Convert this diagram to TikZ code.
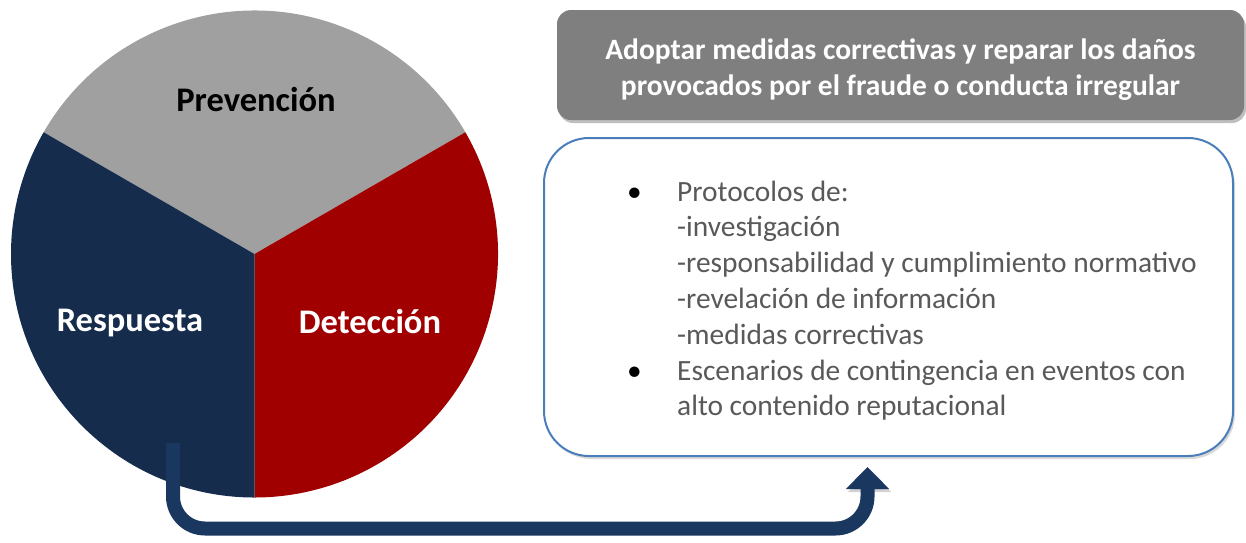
\documentclass[tikz,border=0pt]{standalone}
\usepackage{fontspec}
\setmainfont{Carlito}
\usetikzlibrary{shadows,arrows.meta}
\definecolor{pieGray}{RGB}{160,160,160}
\definecolor{pieNavy}{RGB}{21,44,77}
\definecolor{pieRed}{RGB}{160,0,0}
\definecolor{titleGray}{RGB}{127,127,127}
\definecolor{boxBlue}{RGB}{74,126,187}
\definecolor{txtGray}{RGB}{89,89,89}
\definecolor{arrowNavy}{RGB}{25,55,95}
\begin{document}
\begin{tikzpicture}[x=1pt,y=-1pt,
  pielabel/.style={font=\fontsize{34.5}{40}\selectfont\bfseries, inner sep=0pt, anchor=base},
  titlebox/.style={fill=titleGray, rounded corners=14pt, minimum width=687pt, minimum height=110pt,
     drop shadow={shadow xshift=2pt, shadow yshift=-3pt, opacity=0.25, fill=black}},
  titletext/.style={inner sep=0pt, text=white, align=center, font=\fontsize{29.5}{36}\selectfont\bfseries},
  listbox/.style={draw=boxBlue, line width=2pt, fill=white, rounded corners=45pt,
     minimum width=689pt, minimum height=318pt,
     drop shadow={shadow xshift=2pt, shadow yshift=-3pt, opacity=0.15, fill=black}},
  listtext/.style={inner sep=0pt, anchor=base west, text=txtGray, font=\fontsize{29.4}{35.8}\selectfont},
  bigarrow/.style={draw=arrowNavy, line width=14pt, rounded corners=32pt,
     -{Triangle[width=42pt,length=22pt]},
     preaction={draw=black, opacity=0.18, transform canvas={shift={(2pt,-3pt)}}}}
]
\useasboundingbox (0,0) rectangle (1246,542);
\coordinate (C) at (254.5,254);
\def\R{243.5}
\fill[pieGray] (C) -- ++(210:\R) arc[start angle=210,end angle=330,radius=\R] -- cycle;
\fill[pieRed]  (C) -- ++(330:\R) arc[start angle=330,end angle=450,radius=\R] -- cycle;
\fill[pieNavy] (C) -- ++(90:\R)  arc[start angle=90,end angle=210,radius=\R] -- cycle;
\node[pielabel, text=black] (prev) at (256,111) {Prevención};
\node[pielabel, text=white] (resp) at (130,331) {Respuesta};
\node[pielabel, text=white] (det)  at (370,333) {Detección};

\node[titlebox] (title) at (900.5,65) {};
\node[titletext] (titletxt) at (900.5,69.5) {Adoptar medidas correctivas y reparar los daños\\provocados por el fraude o conducta irregular};
\node[listbox] (box) at (888.5,297) {};
\node[listtext] (list) at (627,201) {\begin{tabular}[t]{@{}p{50pt}@{}l@{}}
\textcolor{black}{•} & Protocolos de:\\
 & -investigación\\
 & -responsabilidad y cumplimiento normativo\\
 & -revelación de información\\
 & -medidas correctivas\\
\textcolor{black}{•} & Escenarios de contingencia en eventos con\\
 & alto contenido reputacional
\end{tabular}};

\coordinate (arrS) at (173,443);
\coordinate (arrB) at (173,528.5);
\coordinate (arrE) at (867.5,467);
\draw[bigarrow] (arrS) -- (arrB) -- (arrB -| arrE) -- (arrE);
\end{tikzpicture}
\end{document}
